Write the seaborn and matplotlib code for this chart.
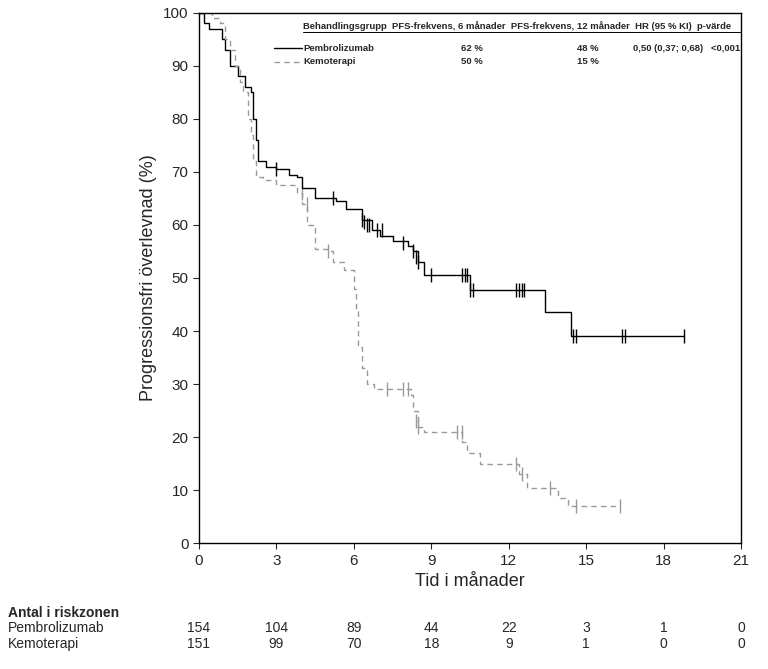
import matplotlib
matplotlib.use('Agg')
import matplotlib.pyplot as plt
import seaborn as sns
import pandas as pd

sns.set_style('white')
plt.rcParams['font.family'] = ['Liberation Sans', 'DejaVu Sans']

# ── Data ──
pem_t = [0, 0.2, 0.4, 0.9, 1.0, 1.2, 1.5, 1.8, 2.0, 2.1, 2.2, 2.3, 2.6, 3.0, 3.5, 3.8, 4.0, 4.5,
         5.3, 5.7, 6.3, 6.7, 7.0, 7.5, 8.1, 8.3, 8.5, 8.7, 10.5, 13.4, 14.4, 18.8]
pem_s = [100, 98, 97, 95, 93, 90, 88, 86, 85, 80, 76, 72, 71, 70.5, 69.5, 69, 67, 65,
         64.5, 63, 61, 59, 58, 57, 56, 55, 53, 50.5, 47.8, 43.5, 39, 39]
pem_ct = [3.0, 5.2, 6.3, 6.4, 6.5, 6.6, 6.9, 7.1, 7.9, 8.3, 8.4, 8.5, 9.0, 10.2, 10.3, 10.4,
          10.5, 10.6, 12.3, 12.4, 12.5, 12.6, 14.5, 14.6, 16.4, 16.5, 18.8]
pem_cs = [70.5, 65, 61, 60.5, 60, 60, 59, 59, 56.5, 55, 54, 53, 50.5, 50.5, 50.5, 50.5,
          47.8, 47.8, 47.8, 47.8, 47.8, 47.8, 39, 39, 39, 39, 39]

kem_t = [0, 0.5, 0.8, 1.0, 1.2, 1.4, 1.6, 1.7, 1.9, 2.0, 2.1, 2.2, 2.5, 3.0, 3.8, 4.0, 4.2, 4.5,
         5.0, 5.2, 5.6, 6.0, 6.1, 6.15, 6.3, 6.5, 6.8, 8.2, 8.3, 8.5, 8.7, 10.2, 10.4, 10.9,
         12.4, 12.7, 13.9, 14.3, 16.3]
kem_s = [100, 99, 98, 95, 93, 90, 87, 85, 80, 77, 72, 69, 68.5, 67.5, 66, 64, 60, 55.5,
         55, 53, 51.5, 48, 44, 37, 33, 30, 29, 28, 25, 22, 21, 19, 17, 15,
         13, 10.5, 8.5, 7, 7]
kem_ct = [4.0, 4.2, 5.0, 7.3, 7.9, 8.1, 8.4, 8.5, 10.0, 10.2, 12.3, 12.5, 13.6, 14.6, 16.3]
kem_cs = [66, 64, 55, 29, 29, 29, 23, 22, 21, 21, 15, 13, 10.5, 7, 7]

risk_times = [0, 3, 6, 9, 12, 15, 18, 21]
risk_pem = [154, 104, 89, 44, 22, 3, 1, 0]
risk_kem = [151, 99, 70, 18, 9, 1, 0, 0]

# ── Plot ──
fig = plt.figure(figsize=(7.68, 6.69), dpi=100)
ax = fig.add_axes([0.259, 0.188, 0.706, 0.793])

sns.lineplot(x=pem_t, y=pem_s, drawstyle='steps-post', estimator=None, color='black',
             lw=1.0, ax=ax)
sns.lineplot(x=kem_t, y=kem_s, drawstyle='steps-post', estimator=None, color='#999999',
             lw=1.0, linestyle=(0, (4, 3)), ax=ax)
sns.scatterplot(x=pem_ct, y=pem_cs, marker='|', s=90, color='black', linewidth=1, ax=ax)
sns.scatterplot(x=kem_ct, y=kem_cs, marker='|', s=90, color='#999999', linewidth=1, ax=ax)

ax.set_xlim(0, 21)
ax.set_ylim(0, 100)
ax.set_xticks(risk_times)
ax.set_yticks(range(0, 101, 10))
ax.tick_params(direction='out', length=4, labelsize=11, left=True, bottom=True)
for s in ax.spines.values():
    s.set_color('black')
    s.set_linewidth(1)
ax.set_xlabel('Tid i månader', fontsize=13)
ax.set_ylabel('Progressionsfri överlevnad (%)', fontsize=13)

# legend table
fs = 6.8
y0, y1, y2 = 96.5, 93.3, 90.8
ax.text(4.05, y0, 'Behandlingsgrupp  PFS-frekvens, 6 månader  PFS-frekvens, 12 månader  HR (95 % KI)  p-värde',
        fontsize=fs, fontweight='bold', va='bottom', ha='left')
ax.plot([4.05, 20.95], [y0 - 0.2, y0 - 0.2], color='black', lw=0.7)
ax.plot([2.9, 4.0], [y1, y1], color='black', lw=1.0)
ax.plot([2.9, 4.0], [y2, y2], color='#999999', lw=1.0, linestyle=(0, (4, 3)))
for y, name, p6, p12 in [(y1, 'Pembrolizumab', '62 %', '48 %'), (y2, 'Kemoterapi', '50 %', '15 %')]:
    ax.text(4.05, y, name, fontsize=fs, fontweight='bold', va='center')
    ax.text(11.0, y, p6, fontsize=fs, fontweight='bold', va='center', ha='right')
    ax.text(15.5, y, p12, fontsize=fs, fontweight='bold', va='center', ha='right')
ax.text(20.95, y1, '0,50 (0,37; 0,68)   <0,001', fontsize=fs, fontweight='bold', va='center', ha='right')

# risk table
fig.text(0.01, 0.083, 'Antal i riskzonen', fontsize=10, fontweight='bold', va='center')
fig.text(0.01, 0.061, 'Pembrolizumab', fontsize=10, va='center')
fig.text(0.01, 0.038, 'Kemoterapi', fontsize=10, va='center')
for t, a, b in zip(risk_times, risk_pem, risk_kem):
    xf = 0.259 + 0.706 * t / 21
    fig.text(xf, 0.061, str(a), fontsize=10, ha='center', va='center')
    fig.text(xf, 0.038, str(b), fontsize=10, ha='center', va='center')

fig.savefig('out.png', dpi=100)
